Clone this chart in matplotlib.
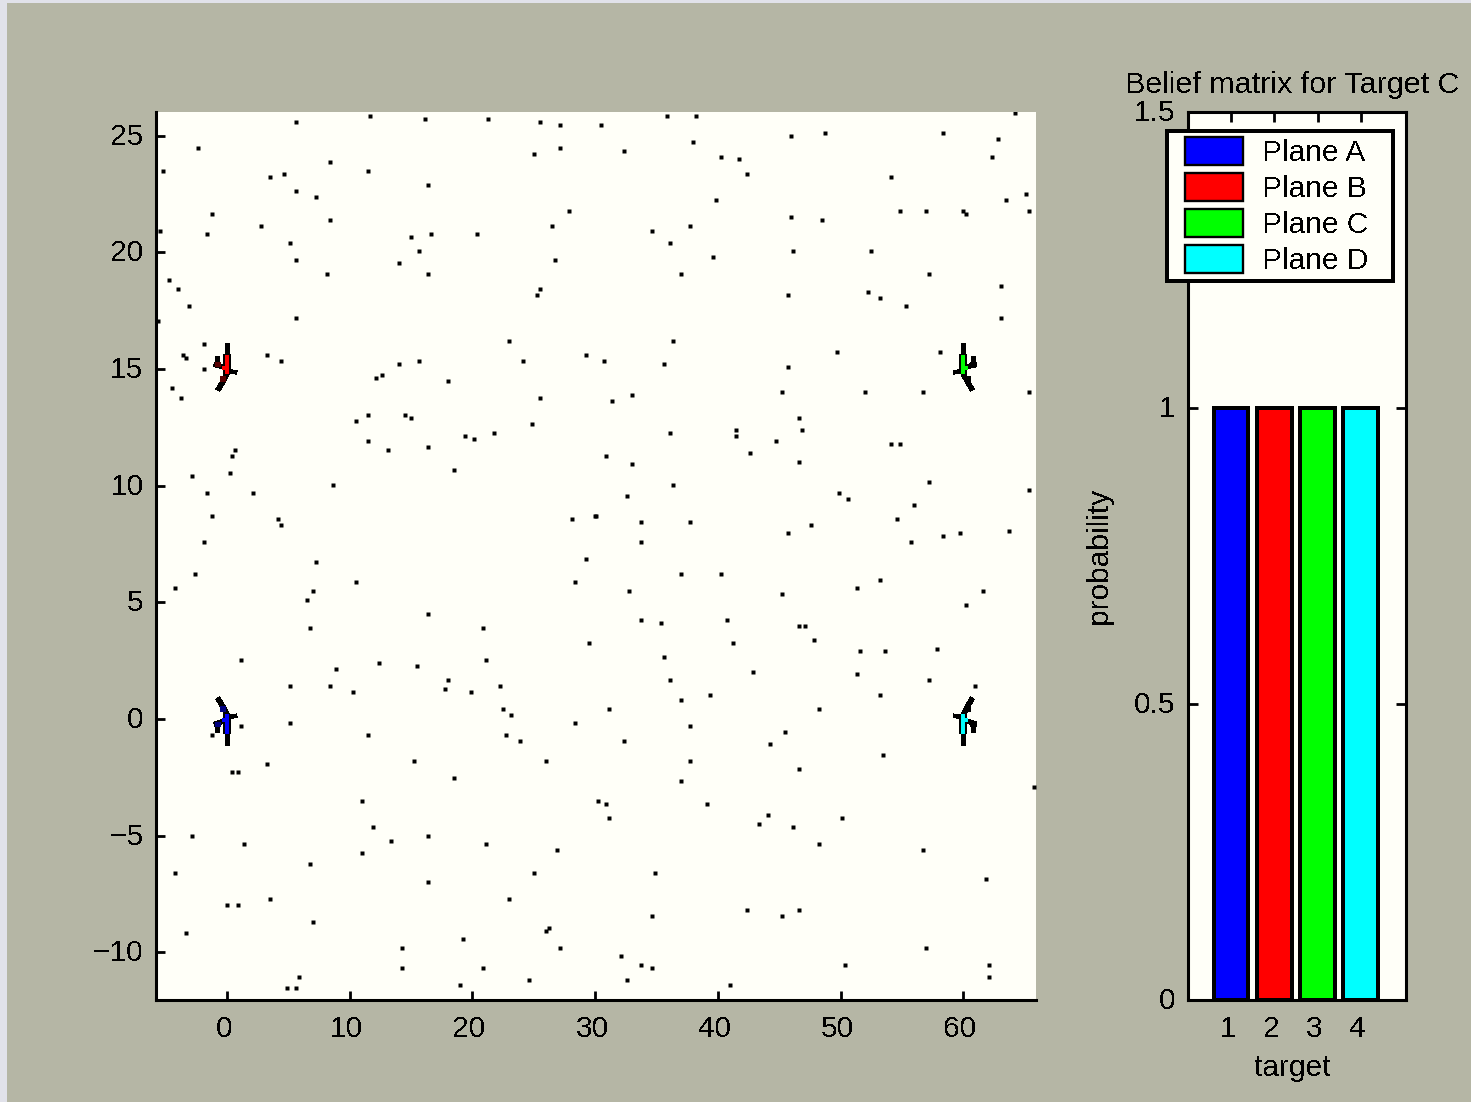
import matplotlib
matplotlib.use("Agg")
import matplotlib.pyplot as plt
from matplotlib.legend_handler import HandlerPatch
from matplotlib.patches import Rectangle
from matplotlib.transforms import ScaledTranslation

plt.rcParams["font.family"] = ["Liberation Sans", "DejaVu Sans"]
plt.rcParams["text.antialiased"] = False

# clutter dots
clutter_x = [5.65, 11.68, 16.16, 21.30, 25.54, 27.17, -2.34, 27.17, 25.05, 8.42, -5.19, 11.47, 3.53, 4.67, 16.41,
             5.65, 7.28, 27.90, -1.19, 8.42, 2.80, 26.52, -5.43, -1.65, 15.03, 16.66, 20.41, 5.16, 15.68, 5.65,
             26.71, 14.05, 8.18, 16.41, -4.70, -3.97, 25.54, 25.30, -3.07, 5.65, -5.65, 22.96, -1.85, -3.56, -3.32,
             3.29, 4.43, 29.29, 24.15, 15.68, 14.05, -1.85, 12.66, 12.17, 18.04, -4.46, -3.75, 25.54, 11.47, 14.53,
             15.03, 10.54, 24.86, 21.79, 19.42, 20.16, 11.47, 16.41, 13.15, 0.68, 0.43, 18.53, 0.21, -2.83, 8.66,
             -1.65, 2.09, -1.19, 4.18, 4.43, 28.14, 29.99, -1.85,
             35.88, 38.22, 30.50, 64.25, 45.94, 48.76, 58.38, 62.86, 38.00, 32.38, 40.29, 41.75, 62.37, 42.41, 54.14,
             65.14, 39.88, 63.52, 54.88, 57.00, 60.01, 60.26, 65.39, 45.94, 48.52, 37.76, 34.66, 36.13, 46.15, 52.51,
             39.63, 37.03, 57.24, 63.05, 52.27, 53.25, 45.75, 55.31, 63.05, 36.35, 49.71, 58.14, 30.72, 35.64, 45.75,
             33.03, 31.40, 45.26, 52.02, 56.75, 65.39, 46.64, 41.51, 46.89, 36.13, 41.51, 44.77, 54.14, 54.88, 42.65,
             30.91, 46.64, 33.03, 36.35, 57.24, 65.39, 49.90, 50.64, 32.57, 56.02, 30.07, 33.77, 37.76, 54.63, 47.62,
             45.75, 59.77, 63.76, 58.38, 33.77, 55.77,
             7.28, 29.29, -2.58, 10.54, -4.21, 28.39, 7.03, 6.55, 16.41, 6.79, 20.89, 29.53, 1.17, 21.11, 8.91,
             12.41, 15.46, 18.04, 5.16, 8.42, 22.28, 17.79, 10.29, 19.91, 22.52, 23.17, 1.17, 5.16, 28.39, -1.19,
             11.47, 22.77, 23.91, 3.29, 15.27, 26.03, 0.43, 0.92, 18.53, 11.03, 11.92, -2.83, 16.41, 13.39, 1.41,
             21.11, 26.92, 11.03, 6.79, -4.21, 25.05, 16.41, 3.53, 22.96, 0.02, 0.92, 7.03, -3.32, 26.27, 26.03,
             19.21, 14.29, 27.17, 14.29, 20.89, 5.87, 4.91, 5.65, 19.02, 24.64,
             37.03, 40.29, 53.25, 51.37, 61.64, 32.79, 45.26, 60.26, 33.77, 35.40, 40.77, 46.64, 47.13, 47.84, 41.26,
             51.59, 53.65, 57.89, 35.64, 42.89, 51.37, 36.13, 57.24, 60.99, 39.39, 53.25, 37.03, 31.16, 48.27, 37.76,
             45.50, 44.28, 32.38, 53.44, 37.76, 46.64, 37.03, 65.75, 30.26, 30.91, 39.14, 31.16, 44.09, 43.38, 50.15,
             46.15, 48.27, 56.75, 34.91, 61.89, 42.41, 46.64, 34.66, 45.26, 56.99, 32.13, 33.77, 34.66, 50.39, 62.13,
             62.13, 32.60, 41.02]
clutter_y = [25.58, 25.83, 25.71, 25.71, 25.58, 25.45, 24.46, 24.46, 24.21, 23.86, 23.48, 23.48, 23.22, 23.35, 22.88,
             22.62, 22.36, 21.76, 21.63, 21.38, 21.13, 21.13, 20.91, 20.78, 20.65, 20.78, 20.78, 20.39, 20.05, 19.66,
             19.66, 19.53, 19.06, 19.06, 18.81, 18.42, 18.42, 18.16, 17.69, 17.18, 17.06, 16.19, 16.09, 15.59, 15.46,
             15.59, 15.33, 15.59, 15.33, 15.33, 15.21, 14.99, 14.73, 14.61, 14.48, 14.18, 13.75, 13.75, 13.02, 13.02,
             12.89, 12.76, 12.63, 12.25, 12.12, 12.00, 11.91, 11.65, 11.52, 11.52, 11.26, 10.66, 10.53, 10.41, 10.05,
             9.68, 9.68, 8.69, 8.56, 8.31, 8.56, 8.69, 7.58,
             25.83, 25.83, 25.45, 25.96, 24.98, 25.11, 25.11, 24.85, 24.72, 24.33, 24.11, 23.99, 24.11, 23.35, 23.22,
             22.49, 22.23, 22.23, 21.76, 21.76, 21.76, 21.63, 21.76, 21.51, 21.38, 21.13, 20.91, 20.39, 20.05, 20.05,
             19.79, 19.06, 19.06, 18.55, 18.29, 18.05, 18.16, 17.69, 17.18, 16.19, 15.72, 15.72, 15.33, 15.21, 15.09,
             13.88, 13.62, 14.00, 14.00, 14.00, 14.00, 12.89, 12.38, 12.38, 12.25, 12.12, 11.91, 11.78, 11.78, 11.39,
             11.26, 11.02, 10.92, 10.05, 10.15, 9.81, 9.68, 9.42, 9.55, 9.16, 8.69, 8.43, 8.43, 8.56, 8.31,
             7.96, 7.96, 8.06, 7.83, 7.58, 7.58,
             6.72, 6.85, 6.20, 5.86, 5.60, 5.86, 5.48, 5.09, 4.49, 3.89, 3.89, 3.25, 2.52, 2.52, 2.13,
             2.39, 2.26, 1.66, 1.40, 1.40, 1.40, 1.28, 1.15, 1.15, 0.42, 0.16, -0.31, -0.18, -0.18, -0.70,
             -0.70, -0.70, -0.95, -1.94, -1.81, -1.81, -2.28, -2.28, -2.54, -3.52, -4.64, -5.02, -5.02, -5.24, -5.37,
             -5.37, -5.62, -5.75, -6.22, -6.61, -6.61, -6.99, -7.72, -7.72, -7.98, -7.98, -8.71, -9.18, -8.97, -9.07,
             -9.44, -9.82, -9.82, -10.68, -10.68, -11.07, -11.54, -11.54, -11.41, -11.18,
             6.20, 6.20, 5.96, 5.60, 5.48, 5.48, 5.35, 4.88, 4.23, 4.10, 4.23, 3.99, 3.99, 3.38, 3.25,
             2.90, 2.90, 3.00, 2.65, 2.02, 1.92, 1.66, 1.66, 1.40, 1.02, 1.02, 0.80, 0.42, 0.42, -0.31,
             -0.57, -1.07, -0.95, -1.55, -1.81, -2.15, -2.67, -2.92, -3.52, -3.65, -3.65, -4.25, -4.12, -4.51, -4.25,
             -4.64, -5.37, -5.62, -6.61, -6.87, -8.20, -8.20, -8.45, -8.45, -9.82, -10.17, -10.55, -10.68, -10.55, -10.55,
             -11.07, -11.18, -11.41]

plane_names = ["Plane A", "Plane B", "Plane C", "Plane D"]
plane_x = [0, 0, 60, 60]
plane_y = [0, 15, 15, 0]
plane_flip_x = [1, 1, -1, -1]
plane_flip_y = [-1, 1, 1, -1]
plane_colors = ["#0000ff", "#ff0000", "#00ff00", "#00ffff"]
plane_shades = ["#000080", "#5a0000", "#000000", "#000000"]

targets = [1, 2, 3, 4]
belief = [1, 1, 1, 1]

BG = "#b5b6a5"
PAPER = "#fffff8"
W, H = 1471, 1102
FS = 21.5
LW = 1.7


def px_box(left, top, right, bottom):
    return [left / W, 1 - bottom / H, (right - left) / W, (bottom - top) / H]


def shift_text(items, fig, dx, dy=0):
    for t in items:
        t.set_transform(t.get_transform() + ScaledTranslation(dx / 100, dy / 100, fig.dpi_scale_trans))


def draw_plane(ax, x0, y0, fx, fy, color, shade):
    # black strokes first, then the coloured core on top
    strokes = [([0, 0], [1.1, 0.55], 2.4),
               ([0, 0], [0.65, -0.2], 5.5),
               ([0, -0.3, -0.75], [-0.2, -0.5, -0.9], 3.2),
               ([-1.05, -0.1], [0.22, 0.05], 3.0),
               ([-0.1, 0.8], [-0.05, -0.15], 2.4),
               ([-0.8, -0.8], [0.55, 0.1], 2.2)]
    for sx, sy, lw in strokes:
        ax.plot([x0 + fx * v for v in sx], [y0 + fy * v for v in sy], color="k", lw=lw,
                solid_capstyle="butt", antialiased=False, zorder=4)
    ax.plot([x0 + fx * v for v in [-1.0, -0.55]], [y0 + fy * v for v in [0.2, 0.2]], color=shade, lw=2.5,
            solid_capstyle="butt", antialiased=False, zorder=5)
    ax.plot([x0 + fx * v for v in [-0.6, -0.05]], [y0 + fy * v for v in [-0.42, -0.42]], color=shade, lw=3.2,
            solid_capstyle="butt", antialiased=False, zorder=5)
    ax.plot([x0 + fx * v for v in [0, 0]], [y0 + fy * v for v in [0.62, -0.2]], color=color, lw=2.8,
            solid_capstyle="butt", antialiased=False, zorder=6)
    ax.plot([x0 + fx * v for v in [-0.42, 0]], [y0 + fy * v for v in [0.06, 0.06]], color=color, lw=1.5,
            solid_capstyle="butt", antialiased=False, zorder=6)


fig = plt.figure(figsize=(W / 100, H / 100), dpi=100, facecolor="#e1e2ea")
fig.add_artist(Rectangle((7 / W, 0), 1, 1 - 3 / H, transform=fig.transFigure, facecolor=BG, edgecolor="none", zorder=-5))

# map axes
ax = fig.add_axes(px_box(156, 112, 1036, 1000), facecolor=PAPER)
ax.plot(clutter_x, clutter_y, ls="none", marker="s", ms=2.2, mfc="k", mec="none", antialiased=False, zorder=2)
for i in range(len(plane_names)):
    draw_plane(ax, plane_x[i], plane_y[i], plane_flip_x[i], plane_flip_y[i], plane_colors[i], plane_shades[i])
ax.set_xlim(-5.79, 65.93)
ax.set_ylim(-12.04, 26.02)
ax.set_xticks(range(0, 61, 10))
ax.set_yticks(range(-10, 26, 5))
ax.spines["top"].set_visible(False)
ax.spines["right"].set_visible(False)
ax.spines["left"].set_linewidth(2.2)
ax.spines["bottom"].set_linewidth(2.2)
ax.tick_params(direction="in", length=6.5, width=2, labelsize=FS)
ax.tick_params(axis="x", pad=11)
ax.tick_params(axis="y", pad=9)
shift_text(ax.get_xticklabels(), fig, -3)
shift_text(ax.get_yticklabels(), fig, 0, 2)

# belief axes
ax2 = fig.add_axes(px_box(1188, 112, 1406, 1000), facecolor=PAPER)
ax2.set_axisbelow(True)
bars = ax2.bar(targets, belief, width=0.8, color=plane_colors, edgecolor="k", linewidth=LW, antialiased=False)
ax2.set_xlim(0, 5.05)
ax2.set_ylim(0, 1.5)
ax2.set_xticks(targets)
ax2.set_yticks([0, 0.5, 1, 1.5])
ax2.set_yticklabels(["0", "0.5", "1", "1.5"])
ax2.tick_params(direction="in", length=7, width=2, labelsize=FS, top=True, right=True)
ax2.tick_params(axis="x", pad=11)
ax2.tick_params(axis="y", pad=9)
shift_text(ax2.get_xticklabels(), fig, -3)
shift_text(ax2.get_yticklabels(), fig, 0, 2)
for sp in ax2.spines.values():
    sp.set_linewidth(2.2)
title = ax2.set_title("Belief matrix for Target C", fontsize=FS * 1.02, pad=14)
shift_text([title], fig, -5)
ax2.set_xlabel("target", fontsize=FS, labelpad=8)
shift_text([ax2.xaxis.label], fig, -4)
ax2.set_ylabel("probability", fontsize=FS, labelpad=15)

leg = ax2.legend(bars, plane_names, loc="upper left",
                 bbox_to_anchor=((1167 - 1188) / 218, (1000 - 131) / 888, 226 / 218, 0),
                 mode="expand", borderaxespad=0, fontsize=FS, fancybox=False, framealpha=1,
                 facecolor=PAPER, edgecolor="k", handlelength=2.34, handleheight=1.05, labelspacing=0.2,
                 handletextpad=0.65, borderpad=0.2,
                 handler_map={type(bars[0]): HandlerPatch(xpad=0.4)})
leg.get_frame().set_linewidth(LW)
leg.get_frame().set_antialiased(False)

fig.savefig("out.png", dpi=100, facecolor=fig.get_facecolor())
